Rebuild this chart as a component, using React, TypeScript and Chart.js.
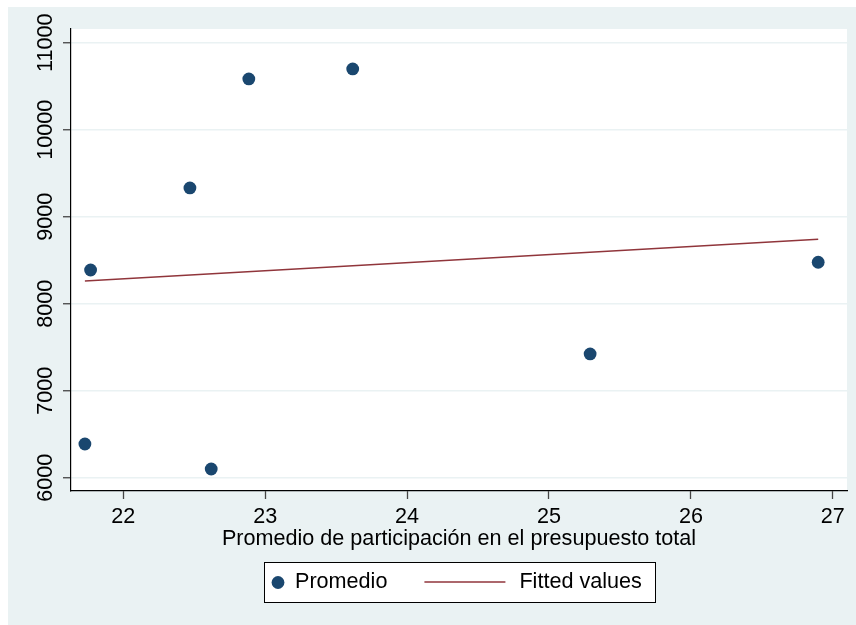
import React, { useEffect, useRef } from "react";
import { Chart, registerables } from "chart.js";

Chart.register(...registerables);

const FONT = "'Liberation Sans', Arial, Helvetica, sans-serif";
const FS = 21.6;

// Data
const xValues = [21.73, 21.77, 22.47, 22.62, 22.885, 23.617, 25.29, 26.897];
const yValues = [6387, 8387, 9330, 6100, 10583, 10698, 7422, 8476];
const fittedX = [21.73, 26.897];
const fittedY = [8261, 8740];
const xTicks = [22, 23, 24, 25, 26, 27];
const yTicks = [6000, 7000, 8000, 9000, 10000, 11000];
const xTitle = "Promedio de participación en el presupuesto total";
const legendLabels = ["Promedio", "Fitted values"];
const xMin = 21.632;
const xMax = 27.1;
const yMin = 5847;
const yMax = 11157;

const MARKER = "#1A476F";
const LINE = "#90353B";
const BG = "#EAF2F3";

export default function App() {
  const ref = useRef<HTMLCanvasElement>(null);

  useEffect(() => {
    const canvas = ref.current!;
    const plotBg = {
      id: "plotBg",
      beforeDraw(chart: any) {
        const { ctx, chartArea: a } = chart;
        ctx.save();
        ctx.fillStyle = "#ffffff";
        ctx.fillRect(a.left, a.top, a.right - a.left, a.bottom - a.top);
        ctx.restore();
      },
    };
    const legendPlugin = {
      id: "stLegend",
      afterDraw(chart: any) {
        const { ctx, chartArea: a } = chart;
        ctx.save();
        ctx.font = `${FS}px ${FONT}`;
        const w1 = ctx.measureText(legendLabels[0]).width;
        const w2 = ctx.measureText(legendLabels[1]).width;
        const boxW = Math.round(8 + 12 + 12 + w1 + 37 + 81 + 14 + w2 + 12);
        const boxH = 40;
        const cx = (a.left + a.right) / 2;
        const left = Math.round(cx - boxW / 2);
        const top = Math.round(a.bottom + 71);
        ctx.fillStyle = "#ffffff";
        ctx.fillRect(left, top, boxW, boxH);
        ctx.strokeStyle = "#000";
        ctx.lineWidth = 1;
        ctx.strokeRect(left + 0.5, top + 0.5, boxW, boxH);
        const my = top + 20.5;
        ctx.fillStyle = MARKER;
        ctx.beginPath();
        ctx.arc(left + 14, my, 6.4, 0, Math.PI * 2);
        ctx.fill();
        ctx.fillStyle = "#000";
        ctx.textBaseline = "middle";
        ctx.textAlign = "left";
        ctx.fillText(legendLabels[0], left + 31, my);
        const lx = left + 31 + w1 + 37;
        ctx.strokeStyle = LINE;
        ctx.lineWidth = 1.6;
        ctx.beginPath();
        ctx.moveTo(lx, my - 0.5);
        ctx.lineTo(lx + 81, my - 0.5);
        ctx.stroke();
        ctx.fillText(legendLabels[1], lx + 81 + 14, my);
        ctx.restore();
      },
    };

    const chart = new Chart(canvas, {
      type: "scatter",
      data: {
        datasets: [
          {
            label: legendLabels[0],
            data: xValues.map((x, i) => ({ x, y: yValues[i] })),
            backgroundColor: MARKER,
            borderColor: MARKER,
            pointRadius: 6.4,
            pointBorderWidth: 0,
            showLine: false,
            order: 1,
          },
          {
            label: legendLabels[1],
            data: fittedX.map((x, i) => ({ x, y: fittedY[i] })),
            showLine: true,
            borderColor: LINE,
            backgroundColor: LINE,
            borderWidth: 1.6,
            pointRadius: 0,
            order: 0,
          },
        ],
      },
      options: {
        responsive: false,
        animation: false,
        layout: { padding: { top: 22, right: 9, bottom: 64, left: 0 } },
        plugins: { legend: { display: false }, tooltip: { enabled: false } },
        scales: {
          x: {
            type: "linear",
            min: xMin,
            max: xMax,
            afterBuildTicks: (s: any) => {
              s.ticks = xTicks.map((v) => ({ value: v }));
            },
            afterFit: (s: any) => {
              s.height = 70;
            },
            grid: {
              drawOnChartArea: false,
              drawTicks: true,
              tickLength: 8,
              tickColor: "#444",
              tickWidth: 1.3,
            },
            border: { display: true, color: "#000", width: 1.2 },
            ticks: {
              color: "#000",
              font: { size: FS, family: FONT },
              padding: 5,
              maxRotation: 0,
              callback: (v: any) => String(v),
            },
            title: {
              display: true,
              text: xTitle,
              color: "#000",
              font: { size: FS, family: FONT },
              padding: { top: 0, bottom: 9 },
            },
          },
          y: {
            type: "linear",
            min: yMin,
            max: yMax,
            afterBuildTicks: (s: any) => {
              s.ticks = yTicks.map((v) => ({ value: v }));
            },
            afterFit: (s: any) => {
              s.width = 63;
            },
            grid: {
              color: BG,
              lineWidth: 1.5,
              drawTicks: true,
              tickLength: 8,
              tickColor: "#444",
              tickWidth: 1.3,
            },
            border: { display: true, color: "#000", width: 1.2 },
            ticks: {
              color: "#000",
              font: { size: FS, family: FONT },
              minRotation: 90,
              maxRotation: 90,
              crossAlign: "center",
              padding: -13,
              callback: (v: any) => String(v),
            },
          },
        },
      },
      plugins: [plotBg, legendPlugin],
    } as any);
    return () => chart.destroy();
  }, []);

  return (
    <div style={{ position: "absolute", left: 8, top: 7, width: 848, height: 618 }}>
      <canvas
        ref={ref}
        width={848}
        height={618}
        style={{ display: "block", width: 848, height: 618, background: BG }}
      />
    </div>
  );
}
